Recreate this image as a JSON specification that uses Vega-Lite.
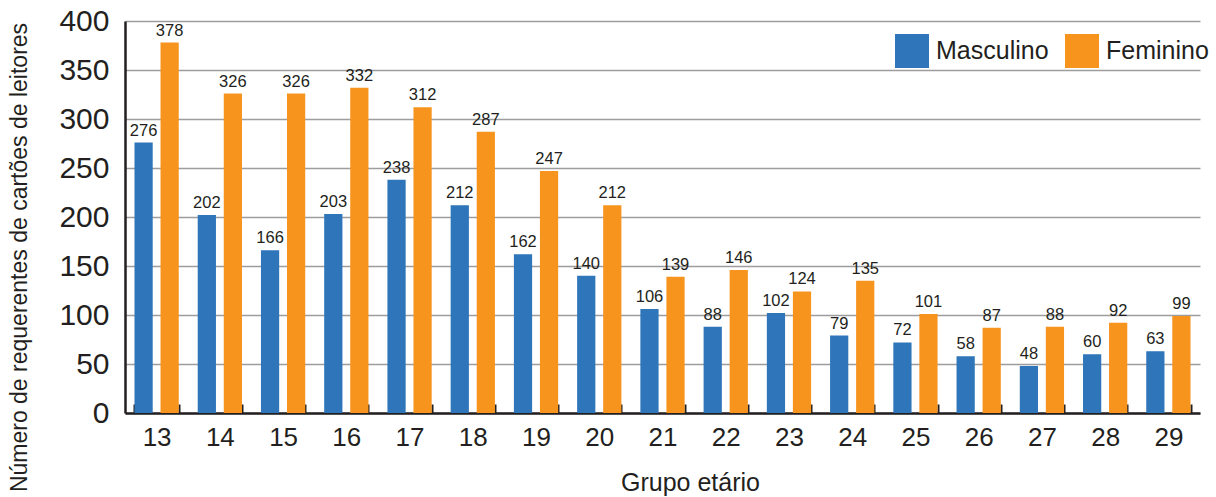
{
  "$schema": "https://vega.github.io/schema/vega-lite/v6.json",
  "autosize": {"type": "none"},
  "padding": {"left": 125, "top": 21, "right": 16, "bottom": 84},
  "width": 1075,
  "height": 392,
  "config": {
    "font": "Liberation Sans",
    "view": {"stroke": null},
    "axis": {"labelFont": "Liberation Sans", "titleFont": "Liberation Sans", "titleFontWeight": "normal", "labelColor": "#231f20", "titleColor": "#231f20"}
  },
  "data": {
    "values": [
      {"idade": "13", "sexo": "Masculino", "n": 276}, {"idade": "13", "sexo": "Feminino", "n": 378},
      {"idade": "14", "sexo": "Masculino", "n": 202}, {"idade": "14", "sexo": "Feminino", "n": 326},
      {"idade": "15", "sexo": "Masculino", "n": 166}, {"idade": "15", "sexo": "Feminino", "n": 326},
      {"idade": "16", "sexo": "Masculino", "n": 203}, {"idade": "16", "sexo": "Feminino", "n": 332},
      {"idade": "17", "sexo": "Masculino", "n": 238}, {"idade": "17", "sexo": "Feminino", "n": 312},
      {"idade": "18", "sexo": "Masculino", "n": 212}, {"idade": "18", "sexo": "Feminino", "n": 287},
      {"idade": "19", "sexo": "Masculino", "n": 162}, {"idade": "19", "sexo": "Feminino", "n": 247},
      {"idade": "20", "sexo": "Masculino", "n": 140}, {"idade": "20", "sexo": "Feminino", "n": 212},
      {"idade": "21", "sexo": "Masculino", "n": 106}, {"idade": "21", "sexo": "Feminino", "n": 139},
      {"idade": "22", "sexo": "Masculino", "n": 88}, {"idade": "22", "sexo": "Feminino", "n": 146},
      {"idade": "23", "sexo": "Masculino", "n": 102}, {"idade": "23", "sexo": "Feminino", "n": 124},
      {"idade": "24", "sexo": "Masculino", "n": 79}, {"idade": "24", "sexo": "Feminino", "n": 135},
      {"idade": "25", "sexo": "Masculino", "n": 72}, {"idade": "25", "sexo": "Feminino", "n": 101},
      {"idade": "26", "sexo": "Masculino", "n": 58}, {"idade": "26", "sexo": "Feminino", "n": 87},
      {"idade": "27", "sexo": "Masculino", "n": 48}, {"idade": "27", "sexo": "Feminino", "n": 88},
      {"idade": "28", "sexo": "Masculino", "n": 60}, {"idade": "28", "sexo": "Feminino", "n": 92},
      {"idade": "29", "sexo": "Masculino", "n": 63}, {"idade": "29", "sexo": "Feminino", "n": 99}
    ]
  },
  "encoding": {
    "x": {
      "field": "idade", "type": "nominal", "sort": null,
      "scale": {"paddingInner": 0.3, "paddingOuter": 0.15},
      "axis": {
        "title": "Grupo etário", "titleFontSize": 25, "titleX": 565, "titleY": 77, "titleBaseline": "alphabetic",
        "labelAngle": 0, "labelFontSize": 26, "labelPadding": 20,
        "tickBand": "extent", "tickSize": -9, "tickColor": "#231f20", "tickWidth": 2,
        "domainColor": "#231f20", "domainWidth": 2.5, "grid": false
      }
    },
    "xOffset": {"field": "sexo", "type": "nominal", "sort": ["Masculino", "Feminino"], "scale": {"paddingInner": 0.3}},
    "y": {
      "field": "n", "type": "quantitative",
      "scale": {"domain": [0, 400]},
      "axis": {
        "title": "Número de requerentes de cartões de leitores", "titleFontSize": 23, "titleX": -94, "titleY": 236,
        "values": [0, 50, 100, 150, 200, 250, 300, 350, 400],
        "labelFontSize": 30, "labelPadding": 16, "ticks": false,
        "domainColor": "#231f20", "domainWidth": 2.5,
        "gridColor": "#9d9d9d", "gridWidth": 1.5
      }
    }
  },
  "layer": [
    {
      "mark": {"type": "bar"},
      "encoding": {
        "color": {
          "field": "sexo", "type": "nominal", "sort": ["Masculino", "Feminino"],
          "scale": {"domain": ["Masculino", "Feminino"], "range": ["#2e75ba", "#f7941d"]},
          "legend": {
            "title": null, "orient": "none", "legendX": 770, "legendY": 13, "direction": "horizontal",
            "symbolType": "square", "symbolSize": 1156, "symbolStrokeWidth": 0, "symbolOpacity": 1,
            "labelFontSize": 25, "labelFont": "Liberation Sans", "labelColor": "#231f20", "columnPadding": 16, "labelOffset": 7
          }
        }
      }
    },
    {
      "mark": {"type": "text", "baseline": "bottom", "dy": -4, "fontSize": 16.5, "color": "#231f20"},
      "encoding": {"text": {"field": "n", "type": "quantitative"}}
    }
  ]
}
